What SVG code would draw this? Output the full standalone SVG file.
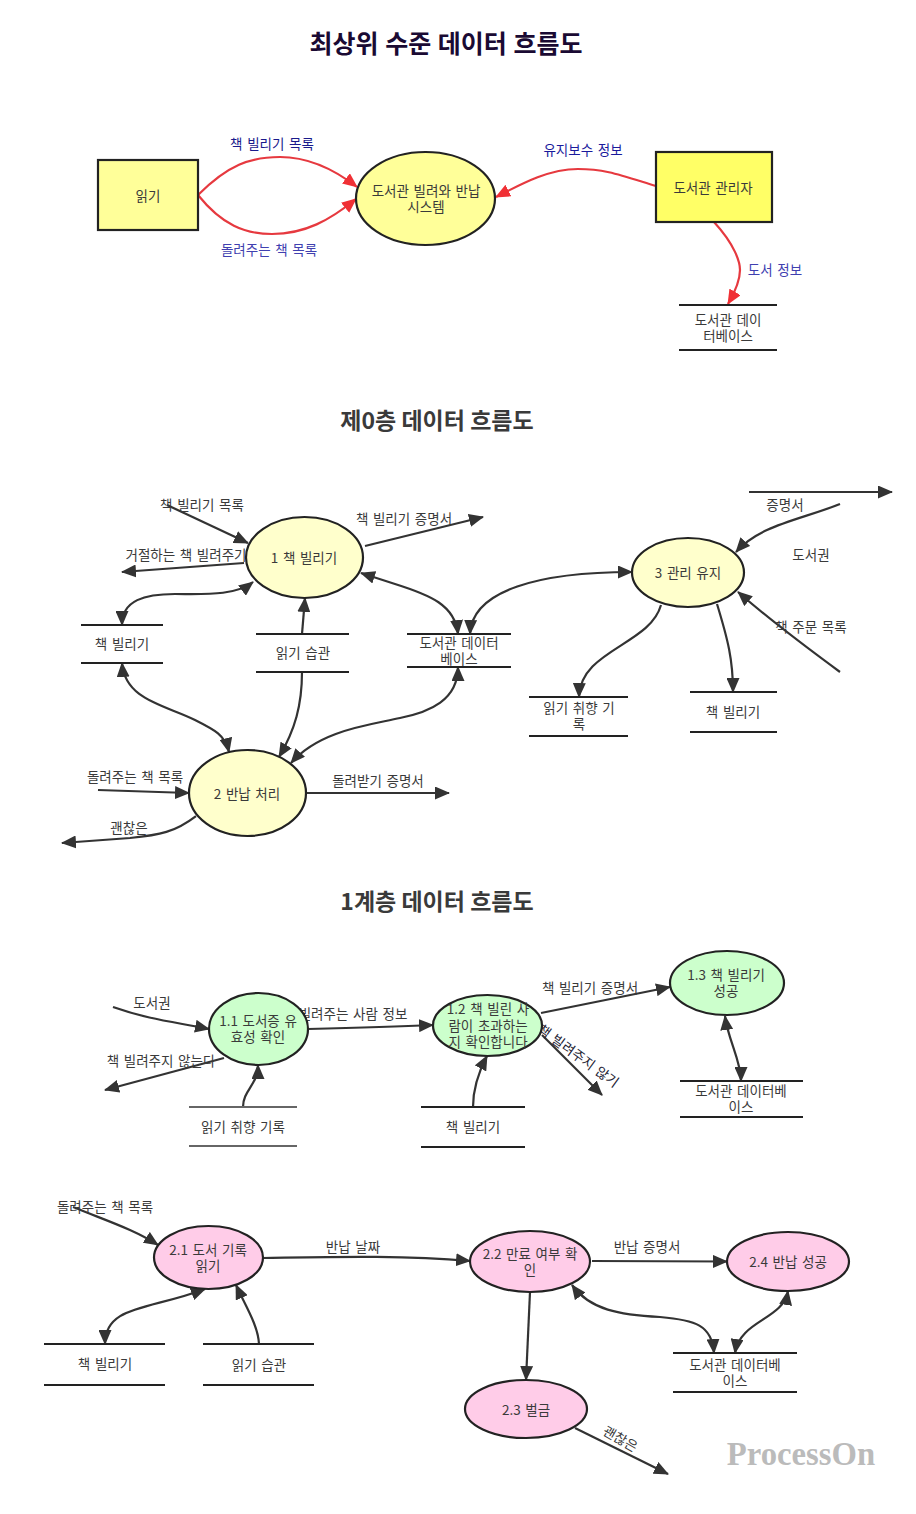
<svg xmlns="http://www.w3.org/2000/svg" width="916" height="1514" viewBox="0 0 916 1514">
<style>
text{font-family:"Noto Sans CJK KR","Noto Sans",sans-serif;font-size:13.5px;word-spacing:1.6px;fill:#3a3a3a;text-anchor:middle;dominant-baseline:central}
.title{font-size:23px;font-weight:700;word-spacing:0}
.n{stroke:#222;stroke-width:2.2}
.db{stroke:#222;stroke-width:2.2;fill:none}
.c{fill:none;stroke:#333;stroke-width:2.2;marker-end:url(#a)}
.b{marker-start:url(#a)}
.r{fill:none;stroke:#e6393f;stroke-width:2.2;marker-end:url(#ar)}
.y{fill:#ffff99}.p{fill:#ffffcc}.g{fill:#ccffcc}.k{fill:#ffcce8}
</style>
<defs>
<marker id="a" viewBox="0 0 15 13" refX="14" refY="6.5" markerWidth="15" markerHeight="13" markerUnits="userSpaceOnUse" orient="auto-start-reverse"><path d="M0 0L15 6.5L0 13z" fill="#333"/></marker>
<marker id="ar" viewBox="0 0 15 13" refX="14" refY="6.5" markerWidth="15" markerHeight="13" markerUnits="userSpaceOnUse" orient="auto-start-reverse"><path d="M0 0L15 6.5L0 13z" fill="#f03035"/></marker>
</defs>
<rect width="916" height="1514" fill="#fff"/>
<text class="title" x="446" y="42" style="font-size:25px;word-spacing:1px;fill:#1a0a33">최상위 수준 데이터 흐름도</text>
<text class="title" x="437" y="419">제0층 데이터 흐름도</text>
<text class="title" x="437" y="900">1계층 데이터 흐름도</text>
<g id="connectors">
<path class="r" d="M198 195C228 165 250 157 280 157C310 157 335 170 357 187"/>
<path class="r" d="M198 195C222 225 245 234 272 234C305 234 330 220 356 199"/>
<path class="r" d="M656 186C620 175 605 169 578 169C550 169 525 182 496 197"/>
<path class="r" d="M714 222C735 245 740 262 740 270C740 280 735 292 728 304"/>
<path class="c" d="M167 505L248 543"/>
<path class="c" d="M244 563L122 572"/>
<path class="c b" d="M122 625C122 600 145 594 175 594C205 594 235 596 253 582"/>
<path class="c" d="M365 546L483 517"/>
<path class="c" d="M302 634L305 598"/>
<path class="c" d="M302 672C302 705 295 730 279 757"/>
<path class="c b" d="M361 573L395 584C430 595 455 605 458 634"/>
<path class="c b" d="M470 634C472 590 540 572 632 572"/>
<path class="c b" d="M291 763C320 730 370 725 400 718C430 712 458 700 458 667"/>
<path class="c b" d="M122 663C125 700 165 705 195 720C215 730 225 735 229 752"/>
<path class="c" d="M98 790L189 793"/>
<path class="c" d="M196 816C175 832 160 835 130 838L62 843"/>
<path class="c" d="M306 793L449 793"/>
<path class="c" d="M749 492L892 492"/>
<path class="c" d="M840 504C800 520 760 525 736 552"/>
<path class="c" d="M840 672C810 650 770 620 738 592"/>
<path class="c" d="M661 605C650 645 580 650 579 697"/>
<path class="c" d="M717 604C728 640 733 660 733 692"/>
<path class="c" d="M113 1007C150 1020 175 1022 209 1029"/>
<path class="c" d="M224 1058L105 1090"/>
<path class="c" d="M308 1029C350 1028 390 1027 433 1025"/>
<path class="c" d="M243 1107C243 1090 258 1085 258 1065"/>
<path class="c" d="M473 1107C473 1090 477 1075 487 1056"/>
<path class="c" d="M541 1013L670 987"/>
<path class="c" d="M542 1035L602 1095"/>
<path class="c b" d="M725 1016C728 1040 741 1060 741 1081"/>
<path class="c" d="M73 1207C110 1222 135 1230 158 1245"/>
<path class="c" d="M263 1258C330 1257 400 1255 470 1261"/>
<path class="c b" d="M105 1344C105 1305 150 1310 205 1289"/>
<path class="c" d="M259 1344C258 1325 245 1305 236 1285"/>
<path class="c" d="M592 1261L727 1261.5"/>
<path class="c" d="M530 1292L526 1380"/>
<path class="c b" d="M572 1285C590 1310 620 1315 660 1317C695 1320 712 1325 714 1353"/>
<path class="c b" d="M788 1291C783 1320 740 1320 735 1353"/>
<path class="c" d="M575 1428L668 1474"/>
<text x="272" y="143" style="fill:#1a1a8c">책 빌리기 목록</text>
<text x="269" y="249" style="fill:#4040b0">돌려주는 책 목록</text>
<text x="583" y="149" style="fill:#1a1a9c">유지보수 정보</text>
<text x="775" y="269" style="fill:#4040b0">도서 정보</text>
<text x="202" y="504">책 빌리기 목록</text>
<text x="186" y="554">거절하는 책 빌려주기</text>
<text x="404" y="518">책 빌리기 증명서</text>
<text x="135" y="776">돌려주는 책 목록</text>
<text x="378" y="780">돌려받기 증명서</text>
<text x="129" y="827">괜찮은</text>
<text x="785" y="504">증명서</text>
<text x="811" y="554">도서권</text>
<text x="811" y="626">책 주문 목록</text>
<text x="152" y="1002">도서권</text>
<text x="161" y="1060">책 빌려주지 않는다</text>
<text x="353" y="1013">빌려주는 사람 정보</text>
<text x="590" y="987">책 빌리기 증명서</text>
<text x="579" y="1055" transform="rotate(36 579 1055)" style="fill:#223">책 빌려주지 않기</text>
<text x="105" y="1206">돌려주는 책 목록</text>
<text x="353" y="1246">반납 날짜</text>
<text x="647" y="1246">반납 증명서</text>
<text x="621" y="1438" transform="rotate(30 621 1438)">괜찮은</text>
</g>
<g id="reader"><rect class="n y" x="98" y="160" width="100" height="70"/><text x="148" y="195">읽기</text></g>
<g id="system"><ellipse class="n y" cx="425.5" cy="198.5" rx="69.5" ry="46.5"/><text y="190"><tspan x="426">도서관 빌려와 반납</tspan><tspan x="426" dy="16">시스템</tspan></text></g>
<g id="admin"><rect class="n" fill="#ffff66" x="656" y="152" width="116" height="70"/><text x="713" y="187">도서관 관리자</text></g>
<g id="db-top"><path class="db" d="M679 305H777M679 350H777"/><text y="319"><tspan x="728">도서관 데이</tspan><tspan x="728" dy="16">터베이스</tspan></text></g>
<g id="p1"><ellipse class="n p" cx="304.5" cy="557.5" rx="58.5" ry="40.5"/><text x="304" y="557">1 책 빌리기</text></g>
<g id="p2"><ellipse class="n p" cx="247.5" cy="793" rx="58.5" ry="43"/><text x="247" y="793">2 반납 처리</text></g>
<g id="p3"><ellipse class="n p" cx="688" cy="572.5" rx="56" ry="34.5"/><text x="688" y="572">3 관리 유지</text></g>
<g id="d0-books"><path class="db" d="M81 625H163M81 663H163"/><text x="122" y="643">책 빌리기</text></g>
<g id="d0-habit"><path class="db" d="M256 634H349M256 672H349"/><text x="303" y="652">읽기 습관</text></g>
<g id="d0-db"><path class="db" d="M407 634H511M407 667H511"/><text y="642"><tspan x="459">도서관 데이터</tspan><tspan x="459" dy="16">베이스</tspan></text></g>
<g id="d0-pref"><path class="db" d="M529 697H628M529 736H628"/><text y="707"><tspan x="579">읽기 취향 기</tspan><tspan x="579" dy="16">록</tspan></text></g>
<g id="d0-books2"><path class="db" d="M690 692H777M690 732H777"/><text x="733" y="711">책 빌리기</text></g>
<g id="p11"><ellipse class="n g" cx="258.5" cy="1029" rx="49.5" ry="36"/><text y="1020"><tspan x="258">1.1 도서증 유</tspan><tspan x="258" dy="16">효성 확인</tspan></text></g>
<g id="p12"><ellipse class="n g" cx="487.5" cy="1025.5" rx="54.5" ry="30.5"/><text y="1008"><tspan x="488">1.2 책 빌린 사</tspan><tspan x="488" dy="16.5">람이 초과하는</tspan><tspan x="488" dy="16">지 확인합니다</tspan></text></g>
<g id="p13"><ellipse class="n g" cx="727" cy="983" rx="57" ry="32"/><text y="974"><tspan x="726">1.3 책 빌리기</tspan><tspan x="726" dy="16">성공</tspan></text></g>
<g id="d1-pref"><path class="db" style="stroke:#666" d="M189 1107H297M189 1146H297"/><text x="243" y="1126">읽기 취향 기록</text></g>
<g id="d1-books"><path class="db" d="M421 1107H525M421 1147H525"/><text x="473" y="1126">책 빌리기</text></g>
<g id="d1-db"><path class="db" d="M680 1081H803M680 1117H803"/><text y="1090"><tspan x="741">도서관 데이터베</tspan><tspan x="741" dy="16">이스</tspan></text></g>
<g id="p21"><ellipse class="n k" cx="208.5" cy="1257.5" rx="54.5" ry="31.5"/><text y="1249"><tspan x="208">2.1 도서 기록</tspan><tspan x="208" dy="16">읽기</tspan></text></g>
<g id="p22"><ellipse class="n k" cx="530" cy="1261.5" rx="60" ry="30.5"/><text y="1253"><tspan x="530">2.2 만료 여부 확</tspan><tspan x="530" dy="16">인</tspan></text></g>
<g id="p23"><ellipse class="n k" cx="526" cy="1409" rx="61" ry="29"/><text x="526" y="1409">2.3 벌금</text></g>
<g id="p24"><ellipse class="n k" cx="788" cy="1261.5" rx="61" ry="29.5"/><text x="788" y="1261">2.4 반납 성공</text></g>
<g id="d2-books"><path class="db" d="M44 1344H165M44 1385H165"/><text x="105" y="1363">책 빌리기</text></g>
<g id="d2-habit"><path class="db" d="M203 1344H314M203 1385H314"/><text x="259" y="1364">읽기 습관</text></g>
<g id="d2-db"><path class="db" d="M673 1353H797M673 1392H797"/><text y="1364"><tspan x="735">도서관 데이터베</tspan><tspan x="735" dy="16">이스</tspan></text></g>
<text x="801" y="1454" style="font-family:'Liberation Serif',serif;font-size:32.7px;font-weight:700;fill:#bbb">ProcessOn</text>
</svg>
